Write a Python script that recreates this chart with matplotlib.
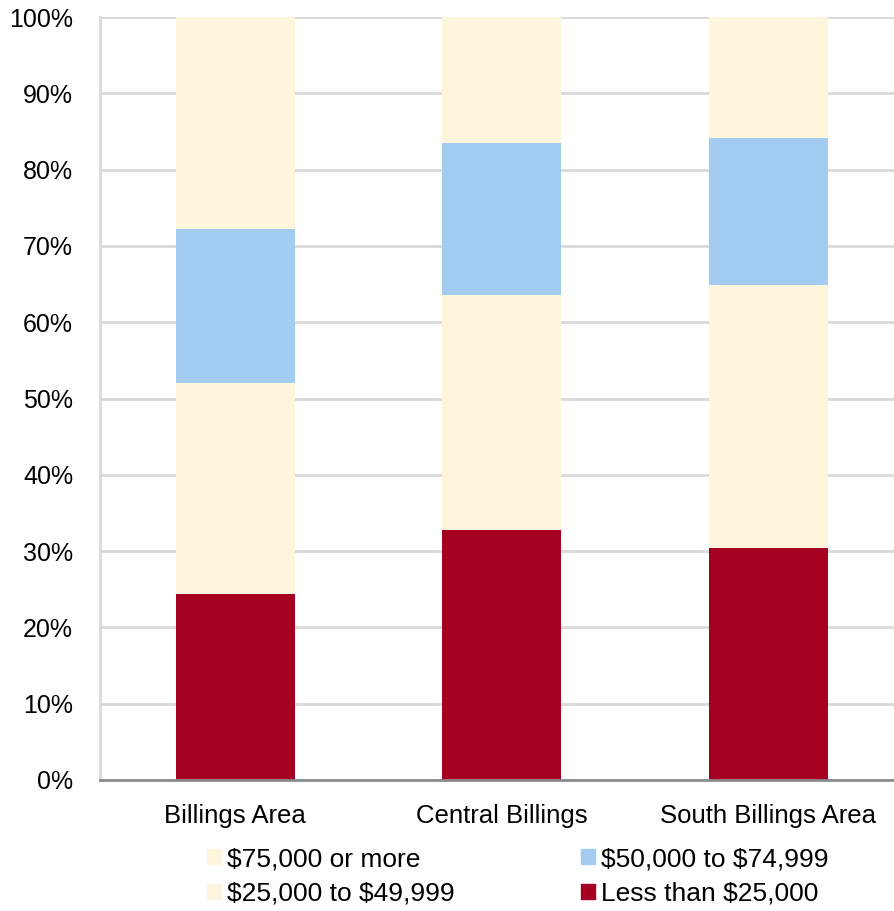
import numpy as np
import matplotlib.pyplot as plt
from matplotlib.patches import Patch

plt.rcParams['font.family'] = ['Liberation Sans', 'DejaVu Sans']

areas = ["Billings Area", "Central Billings", "South Billings Area"]
less_25k = [24.4, 32.8, 30.4]
from_25k = [27.6, 30.8, 34.5]
from_50k = [20.2, 19.9, 19.2]
over_75k = [27.8, 16.5, 15.9]

red = '#a50021'
blue = '#a3cdf0'
cream = '#fdf6dd'

fig = plt.figure(figsize=(8.94, 9.11), dpi=100)
ax = fig.add_axes([0.112, 0.1438, 0.888, 0.8375])

x = np.arange(len(areas))
w = 0.447
bottom = np.zeros(len(areas))
for vals, col in [(less_25k, red), (from_25k, cream), (from_50k, blue), (over_75k, cream)]:
    ax.bar(x, vals, w, bottom=bottom, color=col, zorder=3)
    bottom += np.array(vals)

ax.set_xlim(-0.507, 2.472)
ax.set_ylim(0, 100)
ax.set_yticks(np.arange(0, 101, 10))
ax.set_yticklabels([f"{v}%" for v in range(0, 101, 10)])
ax.set_xticks(x)
ax.set_xticklabels(areas)
ax.tick_params(axis='y', length=0, labelsize=18, pad=19.5)
ax.tick_params(axis='x', length=0, labelsize=18.5, pad=17)
ax.yaxis.grid(True, color='#d9d9d9', linewidth=2, zorder=0)
ax.set_axisbelow(True)
for s in ['top', 'right']:
    ax.spines[s].set_visible(False)
ax.spines['left'].set_color('#d9d9d9')
ax.spines['left'].set_linewidth(2)
ax.spines['bottom'].set_color('#8c8c8c')
ax.spines['bottom'].set_linewidth(2)
ax.spines['bottom'].set_zorder(4)

handles = [Patch(color=cream), Patch(color=cream), Patch(color=blue), Patch(color=red)]
labels = [r"\$75,000 or more", r"\$25,000 to \$49,999", r"\$50,000 to \$74,999", r"Less than \$25,000"]
fig.legend(handles, labels, ncol=2, loc='upper left', bbox_to_anchor=(0.232, 0.070),
           frameon=False, fontsize=19, handlelength=0.5, handleheight=0.5,
           handletextpad=0.25, columnspacing=4.8, labelspacing=0.4, borderaxespad=0,
           borderpad=0)

fig.savefig('out.png', dpi=100)
